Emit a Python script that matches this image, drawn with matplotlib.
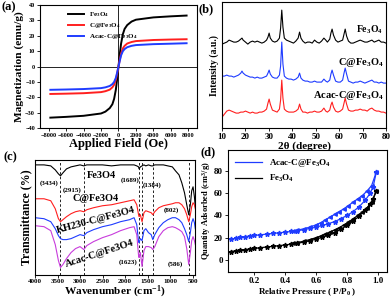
import numpy as np
import matplotlib.pyplot as plt

plt.rcParams['font.family'] = 'Liberation Serif'
plt.rcParams['font.weight'] = 'bold'
plt.rcParams['axes.labelweight'] = 'bold'
plt.rcParams['mathtext.fontset'] = 'custom'
plt.rcParams['mathtext.rm'] = 'Liberation Serif:bold'
plt.rcParams['mathtext.it'] = 'Liberation Serif:bold:italic'
plt.rcParams['mathtext.bf'] = 'Liberation Serif:bold'
plt.rcParams['axes.linewidth'] = 0.8

# (a) magnetization loops
field = [-7800, -6000, -4000, -2000, -1500, -1000, -700, -500, -300, -150, 0,
         150, 300, 500, 700, 1000, 1500, 2000, 4000, 6000, 7800]
mag_fe3o4 = [-33.2, -32.7, -32.0, -30.5, -29.3, -27.0, -24.5, -21.0, -15.0, -8.0, 0,
             8.0, 15.0, 21.0, 24.5, 27.0, 29.3, 30.5, 32.0, 32.7, 33.2]
mag_c = [-17.8, -17.6, -17.3, -16.6, -16.0, -15.0, -13.5, -11.8, -8.5, -4.5, 0,
         4.5, 8.5, 11.8, 13.5, 15.0, 16.0, 16.6, 17.3, 17.6, 17.8]
mag_acac = [-15.1, -14.9, -14.6, -14.0, -13.5, -12.6, -11.4, -10.0, -7.3, -3.8, 0,
            3.8, 7.3, 10.0, 11.4, 12.6, 13.5, 14.0, 14.6, 14.9, 15.2]

# (b) XRD patterns
two_theta = [10, 11, 12, 13, 14, 15, 16, 17, 18, 18.5, 19, 20, 21, 22, 23, 24, 25, 26,
             27, 28, 29, 29.6, 30.1, 30.6, 31.5, 32.5, 33.5, 34.5, 35.0, 35.5, 36.0,
             36.6, 37.5, 38.5, 39.5, 40.5, 41.5, 42.5, 43.1, 43.7, 44.5, 45.5, 46.5,
             47.5, 48.5, 49.5, 50.5, 51.5, 52.5, 53.5, 54.3, 55.0, 56.0, 56.5, 57.0,
             57.6, 58.5, 59.5, 60.5, 61.5, 62.1, 62.6, 63.2, 64, 65, 66, 67, 68, 69,
             70, 71, 72, 73, 74, 75, 76, 77, 78, 79, 80]
xrd_fe3o4 = [84, 85, 86, 88, 87, 86, 86, 87, 89, 90,
             88, 86, 84, 86, 87, 86, 87, 86, 85, 86, 88,
             91, 95, 90, 87, 86, 87, 90,
             100, 118, 101, 90, 88, 87, 86, 85, 87, 90, 96, 90,
             87, 85, 86, 86, 85, 88, 86, 85, 87, 90,
             88, 86, 89, 95, 99, 93, 88, 86, 87, 88, 94, 99, 92,
             87, 85, 85, 86, 87, 88, 87, 86, 86, 87, 88, 86, 87, 88, 86, 86, 85]
xrd_c = [52, 52, 53, 52, 52, 51, 52, 53, 55, 57,
         55, 53, 52, 51, 51, 50, 51, 50, 50, 51, 52,
         55, 58, 54, 51, 50, 50, 53,
         62, 86, 64, 52, 50, 49, 49, 48, 49, 51, 55, 50,
         48, 47, 47, 46, 46, 47, 46, 46, 46, 49,
         47, 46, 48, 54, 58, 53, 47, 46, 46, 48, 55, 60, 54,
         47, 46, 45, 46, 46, 47, 46, 45, 46, 47, 48, 46, 46, 45, 46, 45, 45]
xrd_acac = [11, 14, 17, 18, 17, 16, 15, 15, 16, 16,
            16, 17, 16, 15, 16, 15, 15, 16, 16, 17, 19,
            25, 29, 24, 18, 17, 16, 19,
            28, 48, 30, 19, 17, 16, 16, 16, 17, 19, 24, 19,
            16, 16, 15, 16, 16, 17, 16, 16, 17, 20,
            17, 16, 18, 23, 26, 21, 17, 16, 17, 19, 25, 30, 24,
            18, 17, 17, 18, 18, 19, 18, 18, 17, 19, 20, 18, 17, 17, 16, 16, 15]

# (c) FTIR spectra
wn = [4000, 3800, 3650, 3550, 3480, 3434, 3380, 3300, 3200, 3100, 3000, 2915, 2850,
      2700, 2500, 2300, 2100, 1900, 1800, 1740, 1700, 1689, 1660, 1623, 1580, 1540,
      1480, 1420, 1384, 1340, 1250, 1150, 1050, 950, 880, 802, 740, 680, 630, 586,
      550, 520, 490, 460, 440]
ir_fe3o4 = [110, 110, 109, 105, 101, 99, 102, 106, 108, 109, 110, 109, 110,
            110, 110, 109, 110, 110, 110, 109, 108, 106, 108, 109, 110, 109,
            110, 109, 109, 110, 110, 110, 109, 108, 104, 100, 92, 82, 70, 60,
            70, 84, 88, 78, 68]
ir_c = [76, 76, 74, 66, 56, 53, 55, 58, 61, 63, 64, 63, 65,
        67, 69, 70, 72, 74, 75, 70, 60, 58, 60, 53, 62, 64,
        63, 62, 60, 63, 67, 69, 70, 71, 72, 72, 70, 66, 60, 53,
        60, 68, 72, 70, 66]
ir_kh = [57, 56, 53, 46, 39, 36, 35, 35, 36, 38, 40, 39, 42,
         45, 48, 50, 53, 55, 57, 50, 33, 32, 36, 34, 44, 46,
         42, 40, 35, 40, 47, 52, 55, 57, 57, 55, 52, 46, 40, 33,
         42, 52, 56, 52, 46]
ir_acac = [49, 48, 44, 30, 14, 7, 10, 16, 22, 26, 28, 25, 29,
           33, 37, 40, 44, 47, 48, 40, 19, 17, 22, 8, 24, 28,
           28, 27, 25, 28, 38, 44, 47, 48, 47, 45, 43, 38, 26, 10,
           22, 34, 38, 34, 30]
ir_peaks = [3434, 2915, 1689, 1623, 1384, 586]

# (d) N2 isotherms
p_ads = [0.05, 0.08, 0.11, 0.14, 0.17, 0.2, 0.24, 0.28, 0.32, 0.36, 0.4, 0.44, 0.48,
         0.52, 0.56, 0.6, 0.64, 0.68, 0.72, 0.76, 0.8, 0.84, 0.88, 0.92, 0.95, 0.97, 0.99]
q_acac_ads = [18.5, 19.5, 20.3, 21.0, 21.5, 22.0, 22.6, 23.2, 23.8, 24.4, 25.0, 25.6,
              26.3, 27.2, 28.3, 29.5, 31.0, 32.6, 34.5, 37.0, 40.0, 43.5, 48.0, 54.0,
              60.0, 66.0, 79.0]
q_fe3o4_ads = [7.5, 8.2, 8.8, 9.3, 9.8, 10.3, 11.0, 11.6, 12.2, 12.8, 13.5, 14.2, 15.0,
               16.0, 17.2, 18.7, 20.3, 22.2, 24.5, 27.5, 31.0, 35.0, 39.5, 45.0, 50.0,
               55.0, 62.0]
p_des = [0.99, 0.96, 0.93, 0.9, 0.87, 0.84, 0.81, 0.78, 0.75, 0.72, 0.69, 0.66, 0.63,
         0.6, 0.56, 0.52, 0.48, 0.45]
q_acac_des = [79, 67, 62, 58, 55, 52, 49, 46, 43.5, 41, 38.5, 36, 33.5, 31.5, 29.5,
              28, 26.8, 26]
q_fe3o4_des = [62, 52, 47, 43, 40, 37, 34, 31.5, 29, 27, 25, 23.2, 21.5, 20, 18.3,
               16.8, 15.6, 15.0]

BLUE = '#1f3cff'
RED = '#ff1f1f'
MAGENTA = '#c83cdc'

fig = plt.figure(figsize=(3.91, 3.0), dpi=100)

# ---------------- (a)
ax = fig.add_axes([0.102, 0.573, 0.402, 0.41])
ax.axhline(0, color='k', lw=0.6)
ax.axvline(0, color='k', lw=0.6)
ax.plot(field, mag_fe3o4, color='k', lw=1.4, label='Fe$_3$O$_4$')
ax.plot(field, mag_c, color=RED, lw=1.4, label='C@Fe$_3$O$_4$')
ax.plot(field, mag_acac, color=BLUE, lw=1.4, label='Acac-C@Fe$_3$O$_4$')
ax.set_xlim(-9000, 9000)
ax.set_ylim(-40, 40)
ax.set_xticks(np.arange(-8000, 8001, 2000))
ax.set_yticks(np.arange(-40, 41, 10))
ax.tick_params(labelsize=4.5, length=2, width=0.6, pad=1.5)
ax.set_xlabel('Applied Field (Oe)', fontsize=9, labelpad=0)
ax.set_ylabel('Magnetization (emu/g)', fontsize=8.2, labelpad=1)
ax.legend(loc='upper left', frameon=False, fontsize=5, handlelength=2.2,
          borderaxespad=0.3, labelspacing=0.3, bbox_to_anchor=(0.15, 1.0))
fig.text(0.005, 0.965, '(a)', fontsize=9)

# ---------------- (b)
ax = fig.add_axes([0.568, 0.573, 0.419, 0.42])
ax.plot(two_theta, xrd_fe3o4, color='k', lw=0.8)
ax.plot(two_theta, xrd_c, color=BLUE, lw=0.8)
ax.plot(two_theta, xrd_acac, color=RED, lw=0.8)
ax.set_xlim(10, 80)
ax.set_ylim(0, 126)
ax.set_yticks([])
ax.set_xticks(np.arange(10, 81, 10))
ax.tick_params(labelsize=6.5, length=2, width=0.6, pad=1.5)
ax.set_xlabel('2θ (degree)', fontsize=8, labelpad=0)
ax.set_ylabel('Intensity (a.u.)', fontsize=7, labelpad=2)
ax.text(78.5, 98, 'Fe$_3$O$_4$', fontsize=7, ha='right', va='center')
ax.text(79, 66, 'C@Fe$_3$O$_4$', fontsize=7.5, ha='right', va='center')
ax.text(79, 33, 'Acac-C@Fe$_3$O$_4$', fontsize=7.5, ha='right', va='center')
fig.text(0.508, 0.958, '(b)', fontsize=9)

# ---------------- (c)
ax = fig.add_axes([0.0895, 0.085, 0.41, 0.382])
for p in ir_peaks:
    ax.axvline(p, color='k', lw=0.6, ls=(0, (3, 2.5)))
ax.plot(wn, ir_fe3o4, color='k', lw=0.8)
ax.plot(wn, ir_c, color=RED, lw=0.8)
ax.plot(wn, ir_kh, color=BLUE, lw=0.8)
ax.plot(wn, ir_acac, color=MAGENTA, lw=0.8)
ax.set_xlim(4000, 440)
ax.set_ylim(0, 115)
ax.set_xticks(np.arange(4000, 499, -500))
ax.set_yticks([])
ax.tick_params(labelsize=5, length=2, width=0.6, pad=1.5)
ax.set_xlabel('Wavenumber (cm$^{-1}$)', fontsize=8.2, labelpad=0)
ax.set_ylabel('Transmittance (%)', fontsize=8.5, labelpad=2)
ax.text(2850, 99, 'Fe3O4', fontsize=7.5, ha='left', va='center')
ax.text(2650, 76, 'C@Fe3O4', fontsize=7.5, ha='center', va='center')
ax.text(2640, 55, 'KH230-C@Fe3O4', fontsize=7.5, ha='center', va='center', rotation=15)
ax.text(2560, 21, 'Acac-C@Fe3O4', fontsize=7.5, ha='center', va='center', rotation=18)
for lab, x, y in [('(3434)', 3690, 92), ('(2915)', 3175, 85), ('(1689)', 1880, 95),
                  ('(1384)', 1390, 90), ('(802)', 970, 65), ('(1623)', 1930, 12),
                  ('(586)', 880, 10)]:
    ax.text(x, y, lab, fontsize=5, ha='center', va='center')
fig.text(0.01, 0.465, '(c)', fontsize=9)

# ---------------- (d)
ax = fig.add_axes([0.583, 0.093, 0.407, 0.407])
ax.plot(p_ads, q_acac_ads, color=BLUE, lw=0.9, marker='*', ms=3.5, label='Acac-C@Fe$_3$O$_4$')
ax.plot(p_des, q_acac_des, color=BLUE, lw=0.9, marker='<', ms=2.5)
ax.plot(p_ads, q_fe3o4_ads, color='k', lw=0.9, marker='*', ms=3.5, label='Fe$_3$O$_4$')
ax.plot(p_des, q_fe3o4_des, color='k', lw=0.9, marker='<', ms=2.5)
ax.set_xlim(0.03, 1.06)
ax.set_ylim(-11, 99)
ax.set_xticks([0.2, 0.4, 0.6, 0.8, 1.0])
ax.set_yticks([0, 20, 40, 60, 80])
ax.tick_params(labelsize=6.5, length=2, width=0.6, pad=1.5)
ax.set_xlabel('Relative Pressure ( P/P$_0$ )', fontsize=6.5, labelpad=1)
ax.set_ylabel('Quantity Adsorbed (cm$^3$/g)', fontsize=6, labelpad=1)
leg = ax.legend(loc='upper left', frameon=False, fontsize=6.5, handlelength=3,
                borderaxespad=0.4, labelspacing=0.4)
for h in leg.legend_handles:
    h.set_marker('')
fig.text(0.512, 0.482, '(d)', fontsize=9)

fig.savefig('out.png', dpi=100)
